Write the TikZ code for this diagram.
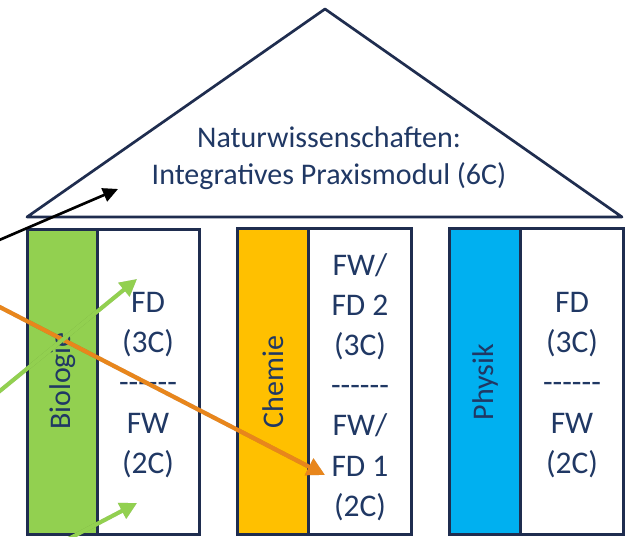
\documentclass[tikz,border=0pt]{standalone}
\usepackage{fontspec}
\setmainfont{Carlito}
\usetikzlibrary{arrows.meta}
\definecolor{txt}{HTML}{203864}
\definecolor{edge}{HTML}{1F2D4F}
\definecolor{bio}{HTML}{92D050}
\definecolor{chem}{HTML}{FFC000}
\definecolor{phys}{HTML}{00B0F0}
\definecolor{orng}{HTML}{E8861C}
\definecolor{grn}{HTML}{92D050}
\newcommand\hyph{\mbox{-}}
\newcommand\dashrow{\hyph\hyph\hyph\hyph\hyph\hyph}
\tikzset{
  pillar/.style={draw=edge, line width=3pt},
  strip/.style={draw=edge, line width=3pt},
  vlabel/.style={text=txt, rotate=90, font=\fontsize{30}{36}\selectfont, inner sep=0pt},
  coltext/.style={text=txt, align=center, font=\fontsize{31.5}{40.2}\selectfont, inner sep=0pt},
  rooftext/.style={text=txt, align=center, font=\fontsize{30}{37}\selectfont, inner sep=0pt},
  shadowline/.style={black, opacity=0.18},
  blackarrow/.style={black, line width=2.6pt, -{Triangle[length=15pt, width=14pt]}},
  greenarrow/.style={grn, line width=4pt, -{Triangle[length=17pt, width=17pt]}},
  orangearrow/.style={orng, line width=4.2pt, -{Triangle[length=18pt, width=18pt]}},
}
\begin{document}
\begin{tikzpicture}[x=1pt, y=-1pt]
\useasboundingbox (0,0) rectangle (634,536);
\fill[white] (0,0) rectangle (634,536);

% roof
\draw[edge, line width=2.7pt, line join=round] (325,9) -- (622,217) -- (27,217) -- cycle;
\node[rooftext] (roof) at (329,158) {Naturwissenschaften:\\Integratives Praxismodul (6C)};

% Biologie pillar
\draw[pillar, fill=white] (27,229) rectangle (199,534);
\draw[strip, fill=bio] (27,229) rectangle (97,534);
\node[vlabel] (biolab) at (63,381) {Biologie};
\node[coltext] (biotext) at (148,385) {FD\\(3C)\\\dashrow\\FW\\(2C)};

% Chemie pillar
\draw[pillar, fill=white] (237,228) rectangle (411,534);
\draw[strip, fill=chem] (237,228) rectangle (308,534);
\node[vlabel] (chemlab) at (273,382) {Chemie};
\node[coltext] (chemtext) at (360,387) {FW/\\FD 2\\(3C)\\\dashrow\\FW/\\FD 1\\(2C)};

% Physik pillar
\draw[pillar, fill=white] (449,228) rectangle (623,534);
\draw[strip, fill=phys] (449,228) rectangle (520,534);
\node[vlabel] (physlab) at (485,382) {Physik};
\node[coltext] (phystext) at (572,385) {FD\\(3C)\\\dashrow\\FW\\(2C)};

% arrow end points
\coordinate (bs) at (-10,244);
\coordinate (be) at (118,189);
\coordinate (g1s) at (-10,399);
\coordinate (g1e) at (137,279);
\coordinate (g2s) at (55,546);
\coordinate (g2e) at (137,503);
\coordinate (os) at (-10,302);
\coordinate (oe) at (325,475);

% shadows
\begin{scope}[shift={(2,3)}]
\draw[blackarrow, shadowline] (bs) -- (be);
\draw[greenarrow, shadowline] (g1s) -- (g1e);
\draw[greenarrow, shadowline] (g2s) -- (g2e);
\draw[orangearrow, shadowline] (os) -- (oe);
\end{scope}

% arrows
\draw[blackarrow] (bs) -- (be);
\draw[orangearrow] (os) -- (oe);
\draw[greenarrow] (g1s) -- (g1e);
\draw[greenarrow] (g2s) -- (g2e);
\end{tikzpicture}
\end{document}
